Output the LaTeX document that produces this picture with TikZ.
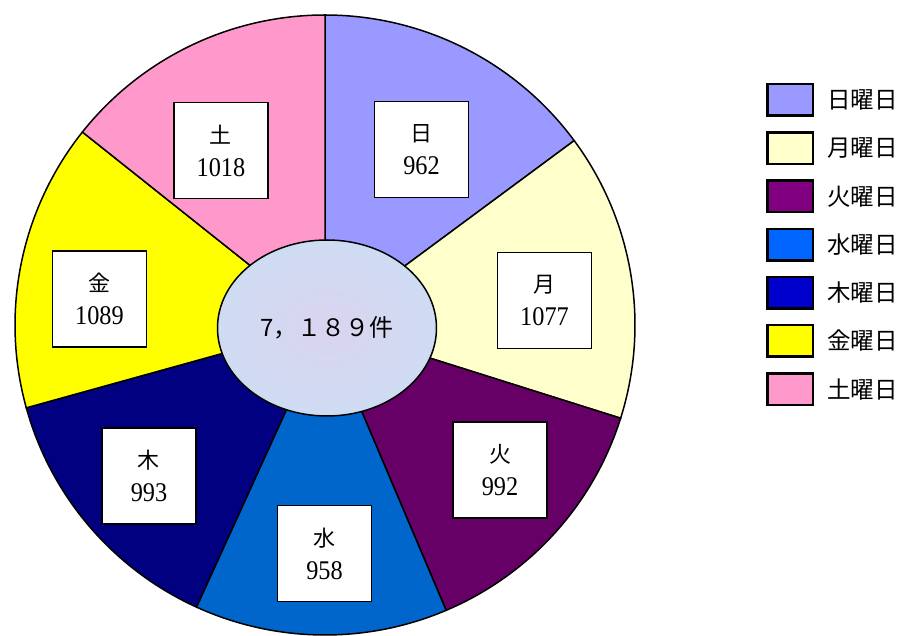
\documentclass[tikz,border=0pt]{standalone}
\usepackage{fontspec}
\setmainfont{Liberation Serif}
\newfontfamily\jpfont{Noto Sans CJK JP}
\newfontfamily\numfont[FakeStretch=0.9]{Liberation Serif}
\usetikzlibrary{positioning, shapes.geometric}

\definecolor{sun}{HTML}{9999FF}
\definecolor{mon}{HTML}{FFFFCC}
\definecolor{tue}{HTML}{660066}
\definecolor{wed}{HTML}{0066CC}
\definecolor{thu}{HTML}{000080}
\definecolor{fri}{HTML}{FFFF00}
\definecolor{sat}{HTML}{FF99CC}
\definecolor{tuekey}{HTML}{800080}
\definecolor{wedkey}{HTML}{0066FF}
\definecolor{thukey}{HTML}{0000CC}
\definecolor{marble}{RGB}{206,220,242}
\definecolor{marblein}{RGB}{218,212,240}

\begin{document}
\begin{tikzpicture}[x=1pt, y=1pt, node distance=48.2pt,
    slice/.style={draw=black, line width=1.5pt},
    count/.style={draw=black, line width=1.5pt, fill=white, minimum width=94pt,
      minimum height=96pt, align=center, font=\numfont\fontsize{27}{33}\selectfont},
    key/.style={draw=black, line width=2.5pt, minimum width=45.5pt,
      minimum height=31.5pt, inner sep=0pt},
    keytext/.style={font=\jpfont\fontsize{23.5}{23.5}\selectfont, inner sep=0pt}]
  \useasboundingbox (-325,-311) rectangle (582,325);

  \foreach \a/\b/\c in {90/36.5/sun, 36.5/-17.5/mon, -17.5/-67/tue, -67/-114.5/wed,
      -114.5/-164.5/thu, -164.5/-218.5/fri, -218.5/-270/sat}
    \filldraw[slice, fill=\c] (0,0) -- (\a:310) arc[start angle=\a, end angle=\b, radius=310] -- cycle;

  \node[ellipse, draw=black, line width=1.5pt, inner color=marblein, outer color=marble,
    minimum width=219pt, minimum height=176pt,
    font=\jpfont\fontsize{24}{24}\selectfont] (total) at (2,-3) {7，１８９件};

  \node[count] (sunbox) at (96.5,175.5)   {{\jpfont\fontsize{22}{33}\selectfont 日}\\962};
  \node[count] (monbox) at (219.5,24.5)   {{\jpfont\fontsize{22}{33}\selectfont 月}\\1077};
  \node[count] (tuebox) at (175,-145)     {{\jpfont\fontsize{22}{33}\selectfont 火}\\992};
  \node[count] (wedbox) at (-0.5,-228.5)  {{\jpfont\fontsize{22}{33}\selectfont 水}\\958};
  \node[count] (thubox) at (-176,-151)    {{\jpfont\fontsize{22}{33}\selectfont 木}\\993};
  \node[count] (fribox) at (-225.5,26)    {{\jpfont\fontsize{22}{33}\selectfont 金}\\1089};
  \node[count] (satbox) at (-104,174.5)   {{\jpfont\fontsize{22}{33}\selectfont 土}\\1018};

  % legend
  \node[key, fill=sun]    (k1) at (465,225) {};
  \node[key, fill=mon]    (k2) [below of=k1] {};
  \node[key, fill=tuekey] (k3) [below of=k2] {};
  \node[key, fill=wedkey] (k4) [below of=k3] {};
  \node[key, fill=thukey] (k5) [below of=k4] {};
  \node[key, fill=fri]    (k6) [below of=k5] {};
  \node[key, fill=sat]    (k7) [below of=k6] {};

  \node[keytext] (t1) [right=13pt of k1] {日曜日};
  \node[keytext] (t2) [right=13pt of k2] {月曜日};
  \node[keytext] (t3) [right=13pt of k3] {火曜日};
  \node[keytext] (t4) [right=13pt of k4] {水曜日};
  \node[keytext] (t5) [right=13pt of k5] {木曜日};
  \node[keytext] (t6) [right=13pt of k6] {金曜日};
  \node[keytext] (t7) [right=13pt of k7] {土曜日};
\end{tikzpicture}
\end{document}
